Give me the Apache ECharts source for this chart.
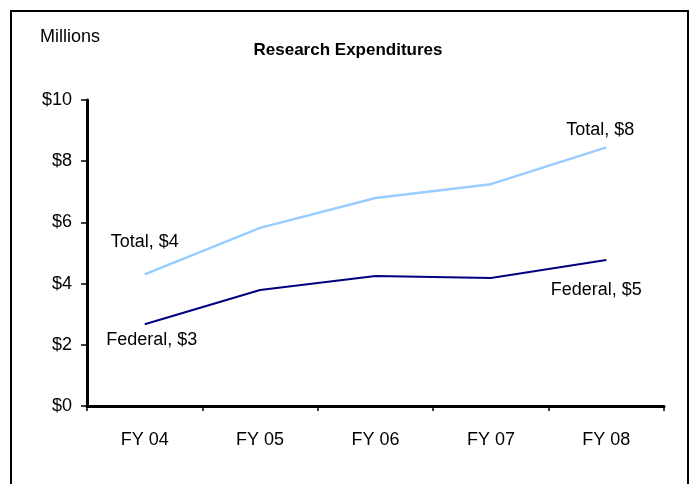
<!DOCTYPE html>
<html lang="en">
<head>
    <meta charset="utf-8">
    <title>Research Expenditures</title>
    <script src="https://cdn.jsdelivr.net/npm/echarts@6/dist/echarts.min.js"></script>
</head>
<body style="margin:0;">
    <div id="chart" style="width: 696px; height: 484px;"></div>
<script type="text/javascript">
    // data (millions of dollars)
    let years = ['FY 04', 'FY 05', 'FY 06', 'FY 07', 'FY 08'];
    let totalValues = [4.3, 5.82, 6.8, 7.25, 8.45];
    let federalValues = [2.67, 3.79, 4.25, 4.18, 4.77];
    let yTicks = [0, 2, 4, 6, 8, 10];

    let font = "'Liberation Sans', Arial, sans-serif";

    // end labels like "Total, $4" only on first and last point
    function withEndLabels(values, name, firstOffset, lastOffset) {
        return values.map(function (v, i) {
            if (i === 0 || i === values.length - 1) {
                return {
                    value: v,
                    label: {
                        show: true,
                        position: 'inside',
                        offset: i === 0 ? firstOffset : lastOffset,
                        formatter: name + ', $' + Math.round(v)
                    }
                };
            }
            return v;
        });
    }

    let myChart = echarts.init(document.getElementById('chart'));
    let option = {
        backgroundColor: '#fff',
        textStyle: { fontFamily: font },
        title: {
            text: 'Research Expenditures',
            left: 'center',
            top: 37,
            textStyle: { fontFamily: font, fontSize: 17, fontWeight: 'bold', color: '#000' }
        },
        graphic: [
            {
                type: 'rect', silent: true,
                shape: { x: 11, y: 11, width: 677, height: 500 },
                style: { fill: 'none', stroke: '#000', lineWidth: 2 }
            },
            {
                type: 'text', left: 40, top: 28,
                style: { text: 'Millions', fontFamily: font, fontSize: 18, fill: '#000' }
            }
        ],
        grid: { left: 87, right: 32, top: 100, bottom: 78 },
        xAxis: {
            type: 'category',
            data: years,
            boundaryGap: true,
            axisLine: { lineStyle: { color: '#000', width: 3 } },
            axisTick: { show: true, length: 5, lineStyle: { color: '#000', width: 1.5 } },
            axisLabel: { color: '#000', fontSize: 18, margin: 25, fontFamily: font }
        },
        yAxis: {
            type: 'value',
            min: yTicks[0],
            max: yTicks[yTicks.length - 1],
            interval: 2,
            splitLine: { show: false },
            axisLine: { show: true, lineStyle: { color: '#000', width: 3 } },
            axisTick: { show: true, length: 6, lineStyle: { color: '#000', width: 1.5 } },
            axisLabel: {
                color: '#000', fontSize: 18, margin: 15, fontFamily: font,
                formatter: function (v) { return '$' + v; }
            }
        },
        series: [
            {
                name: 'Total',
                type: 'line',
                data: withEndLabels(totalValues, 'Total', [0, -32], [-6, -17]),
                symbol: 'circle',
                symbolSize: 0,
                lineStyle: { color: '#99ccff', width: 2.5 },
                itemStyle: { color: '#99ccff' },
                label: { color: '#000', fontSize: 18, fontFamily: font },
                z: 3
            },
            {
                name: 'Federal',
                type: 'line',
                data: withEndLabels(federalValues, 'Federal', [7, 16], [-10, 30]),
                symbol: 'circle',
                symbolSize: 0,
                lineStyle: { color: '#000080', width: 2 },
                itemStyle: { color: '#000080' },
                label: { color: '#000', fontSize: 18, fontFamily: font },
                z: 3
            }
        ]
    };
    myChart.setOption(option);
</script>
</body>
</html>
